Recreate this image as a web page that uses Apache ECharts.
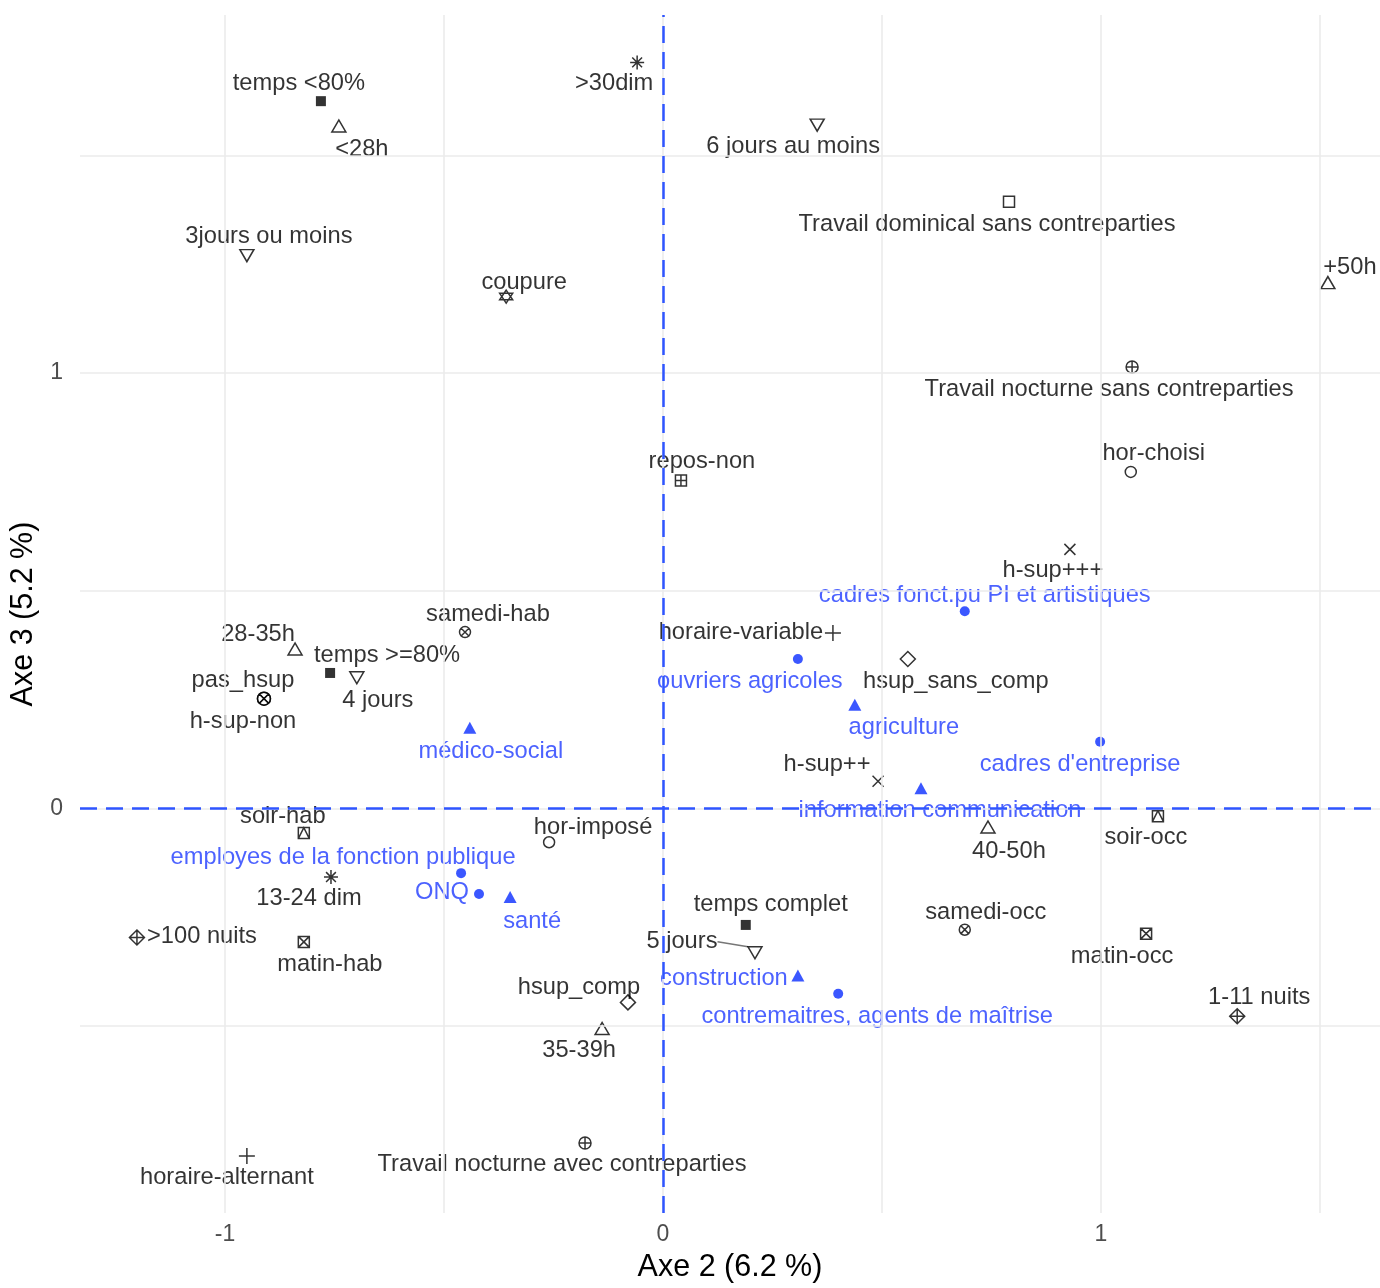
<!DOCTYPE html>
<html>
<head>
<meta charset="utf-8">
<script src="https://cdn.jsdelivr.net/npm/echarts@6/dist/echarts.min.js"></script>
<style>html,body{margin:0;padding:0;background:#fff;overflow:hidden}#c{width:1380px;height:1288px}</style>
</head>
<body>
<div id="c"></div>
<script>
// ---------- DATA ----------
const actLabels = ["temps <80%","temps >=80%","temps complet",
  "<28h","28-35h","35-39h","40-50h","+50h",
  "3jours ou moins","4 jours","5 jours","6 jours au moins",
  ">30dim","13-24 dim","coupure","repos-non",
  "Travail dominical sans contreparties","Travail nocturne sans contreparties","Travail nocturne avec contreparties",
  "hor-choisi","hor-imposé","horaire-variable","horaire-alternant",
  "h-sup+++","h-sup++","hsup_sans_comp","hsup_comp","pas_hsup","h-sup-non",
  "samedi-hab","samedi-occ","soir-hab","soir-occ","matin-hab","matin-occ",
  ">100 nuits","1-11 nuits"];
const actX = [-0.781,-0.760,0.189,
  -0.740,-0.840,-0.139,0.742,1.518,
  -0.950,-0.699,0.210,0.352,
  -0.059,-0.758,-0.358,0.041,
  0.790,1.071,-0.178,
  1.068,-0.260,0.388,-0.950,
  0.929,0.491,0.559,-0.080,-0.911,-0.911,
  -0.452,0.689,-0.820,1.130,-0.820,1.103,
  -1.201,1.311];
const actY = [1.625,0.311,-0.268,
  1.568,0.366,-0.506,-0.043,1.208,
  1.270,0.300,-0.332,1.570,
  1.714,-0.158,1.176,0.753,
  1.394,1.014,-0.769,
  0.773,-0.078,0.403,-0.799,
  0.595,0.062,0.343,-0.446,0.252,0.252,
  0.405,-0.279,-0.057,-0.018,-0.307,-0.288,
  -0.297,-0.478];
const actVar = ["temps","temps","temps",
  "heures","heures","heures","heures","heures",
  "jours","jours","jours","jours",
  "dimanches","dimanches","coupure","repos",
  "dominical","nocturne","nocturne",
  "choix","choix","horaire","horaire",
  "hsup","hsup","hsupcomp","hsupcomp","hsupnon","hsupnon",
  "samedi","samedi","soir","soir","matin","matin",
  "nuits","nuits"];

const supLabels = ["cadres fonct.pu PI et artistiques","ouvriers agricoles","cadres d'entreprise",
  "employes de la fonction publique","ONQ","contremaitres, agents de maîtrise",
  "médico-social","agriculture","information communication","santé","construction"];
const supX = [0.689,0.308,0.998,-0.461,-0.420,0.400,-0.441,0.438,0.589,-0.349,0.308];
const supY = [0.453,0.343,0.153,-0.149,-0.197,-0.426,0.185,0.238,0.046,-0.204,-0.384];
const supType = ["pcs","pcs","pcs","pcs","pcs","pcs","secteur","secteur","secteur","secteur","secteur"];

const xTicks = [-1, 0, 1];
const yTicks = [0, 1];
const gridX = [-1, -0.5, 0, 0.5, 1, 1.5];
const gridY = [-0.5, 0, 0.5, 1, 1.5];

// ---------- STYLE ----------
const FONT = "Liberation Sans, Arial, sans-serif";
const CIRCLE = "M0 50 A50 50 0 1 1 100 50 A50 50 0 1 1 0 50 Z";
const sym = {
  temps:     {symbol:'rect', size:10, fill:'#000'},
  heures:    {symbol:'triangle', size:[14,12], fill:'none'},
  jours:     {symbol:'triangle', size:[14,12], fill:'none', rotate:180},
  dimanches: {symbol:'path://M50 0 V100 M0 50 H100 M15 15 L85 85 M85 15 L15 85', size:14, fill:'none'},
  coupure:   {symbol:'path://M50 0 L100 75 L0 75 Z M50 100 L100 25 L0 25 Z', size:13, fill:'none'},
  repos:     {symbol:'path://M0 0 H100 V100 H0 Z M50 0 V100 M0 50 H100', size:11, fill:'none'},
  dominical: {symbol:'rect', size:11, fill:'none'},
  nocturne:  {symbol:'path://' + CIRCLE + ' M50 0 V100 M0 50 H100', size:12, fill:'none'},
  choix:     {symbol:'circle', size:11, fill:'none'},
  horaire:   {symbol:'path://M50 0 V100 M0 50 H100', size:16, fill:'none'},
  hsup:      {symbol:'path://M0 0 L100 100 M100 0 L0 100', size:11, fill:'none'},
  hsupcomp:  {symbol:'diamond', size:15, fill:'none'},
  hsupnon:   {symbol:'path://' + CIRCLE + ' M14.6 14.6 L85.4 85.4 M85.4 14.6 L14.6 85.4', size:13, fill:'none'},
  samedi:    {symbol:'path://' + CIRCLE + ' M14.6 14.6 L85.4 85.4 M85.4 14.6 L14.6 85.4', size:11, fill:'none'},
  soir:      {symbol:'path://M0 0 H100 V100 H0 Z M0 100 L50 0 L100 100', size:11, fill:'none'},
  matin:     {symbol:'path://M0 0 H100 V100 H0 Z M0 0 L100 100 M100 0 L0 100', size:11, fill:'none'},
  nuits:     {symbol:'path://M50 0 L100 50 L50 100 L0 50 Z M50 0 V100 M0 50 H100', size:15, fill:'none'}
};
const supSym = {
  pcs:     {symbol:'circle', size:10},
  secteur: {symbol:'triangle', size:[13,12]}
};
// label offsets (px) relative to the mark
const off = {
  "temps <80%":[-22,-18],"temps >=80%":[57,-18],"temps complet":[25,-20],
  "<28h":[23,23],"28-35h":[-37,-15],"35-39h":[-23,22],"40-50h":[21,24],"+50h":[22,-15],
  "3jours ou moins":[22,-19],"4 jours":[21,23],"5 jours":[-73,-11],"6 jours au moins":[-24,21],
  ">30dim":[-23,21],"13-24 dim":[-22,21],"coupure":[18,-14],"repos-non":[21,-19],
  "Travail dominical sans contreparties":[-22,23],"Travail nocturne sans contreparties":[-23,22],
  "Travail nocturne avec contreparties":[-23,22],
  "hor-choisi":[23,-18],"hor-imposé":[44,-15],"horaire-variable":[-92,0],"horaire-alternant":[-20,21],
  "h-sup+++":[-17,21],"h-sup++":[-51,-17],"hsup_sans_comp":[48,22],"hsup_comp":[-49,-15],
  "pas_hsup":[-21,-18],"h-sup-non":[-21,23],
  "samedi-hab":[23,-18],"samedi-occ":[21,-17],"soir-hab":[-21,-17],"soir-occ":[-12,21],
  "matin-hab":[26,23],"matin-occ":[-24,23],">100 nuits":[65,-1],"1-11 nuits":[22,-19],
  "cadres fonct.pu PI et artistiques":[20,-16],"ouvriers agricoles":[-48,22],"cadres d'entreprise":[-20,23],
  "employes de la fonction publique":[-118,-16],"ONQ":[-37,-2],"contremaitres, agents de maîtrise":[39,23],
  "médico-social":[21,24],"agriculture":[49,23],"information communication":[19,22],
  "santé":[22,24],"construction":[-74,3]
};
const withSegment = {"5 jours": true};

const BLACK = '#000';
const BLUE_MARK = '#0a2dff';
const BLUE_TEXT = '#1f3bff';

const actData = actLabels.map((n, i) => {
  const s = sym[actVar[i]];
  const seg = !!withSegment[n];
  return {
    name: n,
    value: [actX[i], actY[i]],
    symbol: s.symbol,
    symbolSize: s.size,
    symbolRotate: s.rotate || 0,
    itemStyle: {color: s.fill, borderColor: '#000', borderWidth: s.fill === 'none' ? 1.5 : 0},
    labelLine: {show: seg, lineStyle: {color: '#777', width: 1.6}}
  };
});
const supData = supLabels.map((n, i) => {
  const s = supSym[supType[i]];
  return {
    name: n,
    value: [supX[i], supY[i]],
    symbol: s.symbol,
    symbolSize: s.size,
    label: {offset: off[n] || [0, -18]}
  };
});

const labelBase = {
  show: true, position: 'inside', formatter: p => p.name,
  fontFamily: FONT, fontSize: 23.7, align: 'center', verticalAlign: 'middle',
  textBorderWidth: 0, textShadowBlur: 0
};

const el = document.getElementById('c');
const chart = echarts.init(el, null, {renderer: 'canvas', width: 1380, height: 1288});
chart.setOption({
  animation: false,
  backgroundColor: '#fff',
  grid: {left: 80, right: 0, top: 15, bottom: 70},
  xAxis: {
    type: 'value', min: -1.331, max: 1.637,
    name: 'Axe 2 (6.2 %)', nameLocation: 'middle', nameGap: 39,
    nameTextStyle: {fontFamily: FONT, fontSize: 30.5, color: '#000'},
    axisLine: {show: false}, axisTick: {show: false}, splitLine: {show: false},
    axisLabel: {customValues: xTicks, color: '#4d4d4d', fontFamily: FONT, fontSize: 23, margin: 10}
  },
  yAxis: {
    type: 'value', min: -0.930, max: 1.823,
    name: 'Axe 3 (5.2 %)', nameLocation: 'middle', nameGap: 37,
    nameTextStyle: {fontFamily: FONT, fontSize: 30.5, color: '#000'},
    axisLine: {show: false}, axisTick: {show: false}, splitLine: {show: false},
    axisLabel: {customValues: yTicks, color: '#4d4d4d', fontFamily: FONT, fontSize: 23, margin: 17}
  },
  series: [
    {
      type: 'scatter', silent: true, data: [], z: 1,
      markLine: {
        silent: true, symbol: ['none', 'none'], label: {show: false},
        lineStyle: {color: '#ebebeb', width: 1.6, type: 'solid'},
        data: gridX.map(v => ({xAxis: v})).concat(gridY.map(v => ({yAxis: v})))
      }
    },
    {
      type: 'scatter', silent: true, data: [], z: 2,
      markLine: {
        silent: true, symbol: ['none', 'none'], label: {show: false},
        lineStyle: {color: '#2f55ff', width: 2.5, type: [17, 9]},
        data: [{xAxis: 0}, {yAxis: 0}]
      }
    },
    {
      type: 'scatter', z: 4, data: actData,
      label: Object.assign({}, labelBase, {color: BLACK}),
      labelLayout: p => {
        const o = off[actLabels[p.dataIndex]] || [0, -18];
        return {dx: o[0], dy: o[1]};
      }
    },
    {
      type: 'scatter', z: 3, data: supData,
      itemStyle: {color: BLUE_MARK},
      label: Object.assign({}, labelBase, {color: BLUE_TEXT})
    }
  ]
});
</script>
</body>
</html>
